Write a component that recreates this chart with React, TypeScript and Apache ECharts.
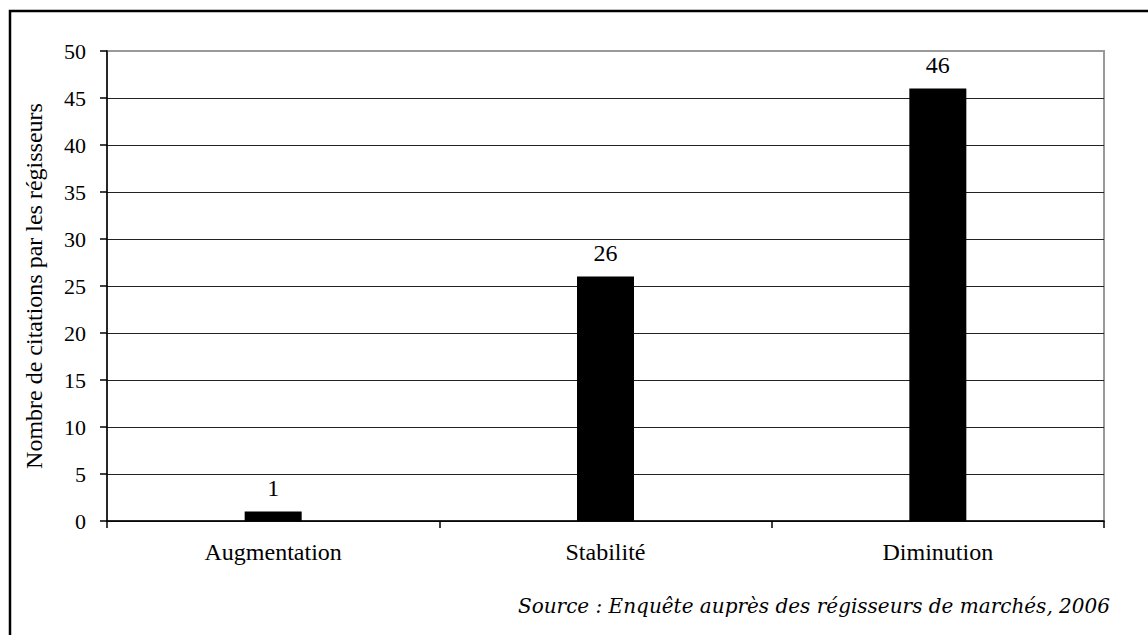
import React, { useEffect, useRef } from "react";
import * as echarts from "echarts";

const categories = ["Augmentation", "Stabilité", "Diminution"];
const values = [1, 26, 46];
const yTitle = "Nombre de citations par les régisseurs";
const sourceText = "Source : Enquête auprès des régisseurs de marchés, 2006";

export default function App() {
  const ref = useRef<HTMLDivElement>(null);
  useEffect(() => {
    if (!ref.current) return;
    const chart = echarts.init(ref.current, undefined, { renderer: "svg" });
    const splitColors = ["#222", "#222", "#222", "#222", "#222", "#222", "#222", "#222", "#222", "#222", "#999"];
    chart.setOption({
      animation: false,
      backgroundColor: "#fff",
      textStyle: { fontFamily: "Liberation Serif" },
      grid: {
        left: 107,
        top: 51,
        right: 44,
        bottom: 114,
        show: true,
        borderColor: "#9a9a9a",
        borderWidth: 2,
      },
      xAxis: {
        type: "category",
        data: categories,
        axisLine: { lineStyle: { color: "#000", width: 1.5 } },
        axisTick: { show: true, length: 7, lineStyle: { color: "#000", width: 1.5 } },
        axisLabel: { color: "#000", fontSize: 24, margin: 19, fontFamily: "Liberation Serif" },
      },
      yAxis: {
        type: "value",
        min: 0,
        max: 50,
        interval: 5,
        name: yTitle,
        nameLocation: "middle",
        nameGap: 61,
        nameTextStyle: { color: "#000", fontSize: 24, fontFamily: "Liberation Serif" },
        axisLine: { show: true, lineStyle: { color: "#000", width: 1.5 } },
        axisTick: { show: true, length: 7, lineStyle: { color: "#000", width: 1.5 } },
        axisLabel: { color: "#000", fontSize: 22, margin: 21, fontFamily: "Liberation Serif" },
        splitLine: { show: true, lineStyle: { color: splitColors, width: 1.2 } },
      },
      series: [
        {
          type: "bar",
          data: values,
          barWidth: 57,
          itemStyle: { color: "#000" },
          label: {
            show: true,
            position: "top",
            distance: 12,
            color: "#000",
            fontSize: 24,
            fontFamily: "Liberation Serif",
          },
        },
      ],
      graphic: [
        {
          type: "rect",
          shape: { x: 10, y: 11, width: 1200, height: 700 },
          style: { fill: "none", stroke: "#000", lineWidth: 2.5 },
          silent: true,
        },
        {
          type: "text",
          right: 38,
          top: 596,
          style: {
            text: sourceText,
            fill: "#000",
            fontSize: 20,
            fontStyle: "italic",
            fontFamily: "DejaVu Serif",
          },
        },
      ],
    });
    return () => chart.dispose();
  }, []);
  return (
    <div
      ref={ref}
      style={{ position: "fixed", left: 0, top: 0, width: 1148, height: 635 }}
    />
  );
}
